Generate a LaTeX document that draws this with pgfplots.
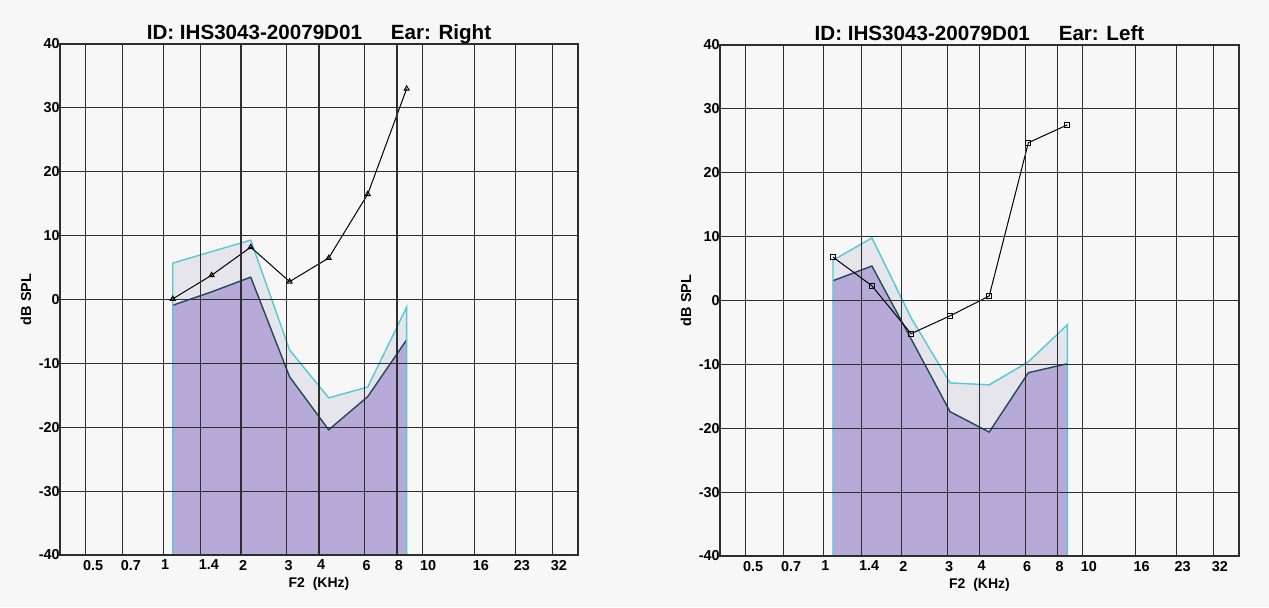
\documentclass[border=0pt]{standalone}
\usepackage{fontspec}
\setmainfont{Liberation Sans}
\usepackage{pgfplots}
\pgfplotsset{compat=1.18}
\definecolor{gridc}{HTML}{2E2E2E}
\definecolor{noisefill}{HTML}{B7AAD8}
\definecolor{bandfill}{HTML}{E7E5EC}
\definecolor{cyanline}{HTML}{55C8D2}
\definecolor{darkline}{HTML}{1E4A5A}
\definecolor{bg}{HTML}{F7F7F7}

% shared look of both panels
\pgfplotsset{
  scale only axis,
  height=255.5pt,
  log basis x=2,
  xmin=0.4, xmax=40, ymin=-40, ymax=40,
  xtick={0.5,0.7,1,1.4,2,3,4,6,8,10,16,23,32},
  xticklabels={0.5,0.7,1,1.4,2,3,4,6,8,10,16,23,32},
  ytick={-40,-30,-20,-10,0,10,20,30,40},
  yticklabels={-40,-30,-20,-10,0,10,20,30,40},
  grid=major,
  major grid style={draw=gridc, line width=0.55pt},
  axis line style={draw=gridc, line width=0.7pt},
  major tick length=0pt,
  axis on top,
  tick label style={font=\fontsize{7.2}{8}\selectfont\bfseries, text=black, inner sep=0pt},
  xticklabel style={anchor=north west, xshift=-1.2pt, yshift=-2.3pt},
  yticklabel style={anchor=east},
  every axis title/.style={at={(axis description cs:0.5,1)}, anchor=base, yshift=2.5pt, inner sep=0pt, font=\fontsize{10.3}{12}\selectfont\bfseries},
  every axis x label/.style={at={(axis description cs:0.5,0)}, anchor=base, yshift=-16pt, inner sep=0pt, font=\fontsize{7}{8}\selectfont\bfseries},
  every axis y label/.style={at={(axis description cs:-0.0656,0.5)}, rotate=90, anchor=center, inner sep=0pt, font=\fontsize{7.2}{8}\selectfont\bfseries},
}

\begin{document}
\begin{tikzpicture}
\fill[bg] (0,0) rectangle (634.5pt,303.5pt);
\path[use as bounding box] (0,0) rectangle (634.5pt,303.5pt);

% Right ear
\begin{semilogxaxis}[width=259pt, at={(30pt,26pt)}, anchor=south west,
  xlabel={F2\ \ (KHz)}, ylabel={dB SPL},
  title={ID: IHS3043-20079D01\hspace{1.4em}Ear: Right}]
\addplot[fill=bandfill, draw=none] coordinates {
  (1.09,-40) (1.09,5.7) (1.54,7.5) (2.18,9.3) (3.08,-7.9) (4.36,-15.4) (6.17,-13.7) (8.72,-1.2) (8.72,-40)};
\addplot[fill=noisefill, draw=none] coordinates {
  (1.09,-40) (1.09,-0.9) (1.54,1.2) (2.18,3.5) (3.08,-12.1) (4.36,-20.4) (6.17,-15.2) (8.72,-6.3) (8.72,-40)};
\addplot[darkline, line width=0.7pt] coordinates {
  (1.09,-0.9) (1.54,1.2) (2.18,3.5) (3.08,-12.1) (4.36,-20.4) (6.17,-15.2) (8.72,-6.3)};
\addplot[cyanline, line width=0.7pt] coordinates {
  (1.09,-40) (1.09,5.7) (1.54,7.5) (2.18,9.3) (3.08,-7.9) (4.36,-15.4) (6.17,-13.7) (8.72,-1.2) (8.72,-40)};
\addplot[black, line width=0.5pt, mark=triangle, mark size=1.4pt, mark options={solid}] coordinates {
  (1.09,0.1) (1.54,3.8) (2.18,8.2) (3.08,2.8) (4.36,6.5) (6.17,16.5) (8.72,33)};
\end{semilogxaxis}

% Left ear
\begin{semilogxaxis}[width=259.5pt, at={(360pt,25.5pt)}, anchor=south west,
  xlabel={F2\ \ (KHz)}, ylabel={dB SPL},
  title={ID: IHS3043-20079D01\hspace{1.4em}Ear: Left}]
\addplot[fill=bandfill, draw=none] coordinates {
  (1.09,-40) (1.09,6.3) (1.54,9.8) (2.18,-2.7) (3.08,-12.9) (4.36,-13.2) (6.17,-9.6) (8.72,-3.8) (8.72,-40)};
\addplot[fill=noisefill, draw=none] coordinates {
  (1.09,-40) (1.09,3.1) (1.54,5.4) (2.18,-6.0) (3.08,-17.4) (4.36,-20.6) (6.17,-11.3) (8.72,-9.9) (8.72,-40)};
\addplot[darkline, line width=0.7pt] coordinates {
  (1.09,3.1) (1.54,5.4) (2.18,-6.0) (3.08,-17.4) (4.36,-20.6) (6.17,-11.3) (8.72,-9.9)};
\addplot[cyanline, line width=0.7pt] coordinates {
  (1.09,-40) (1.09,6.3) (1.54,9.8) (2.18,-2.7) (3.08,-12.9) (4.36,-13.2) (6.17,-9.6) (8.72,-3.8) (8.72,-40)};
\addplot[black, line width=0.5pt, mark=square, mark size=1.2pt, mark options={solid}] coordinates {
  (1.09,6.8) (1.54,2.3) (2.18,-5.2) (3.08,-2.4) (4.36,0.7) (6.17,24.7) (8.72,27.5)};
\end{semilogxaxis}
\end{tikzpicture}
\end{document}
